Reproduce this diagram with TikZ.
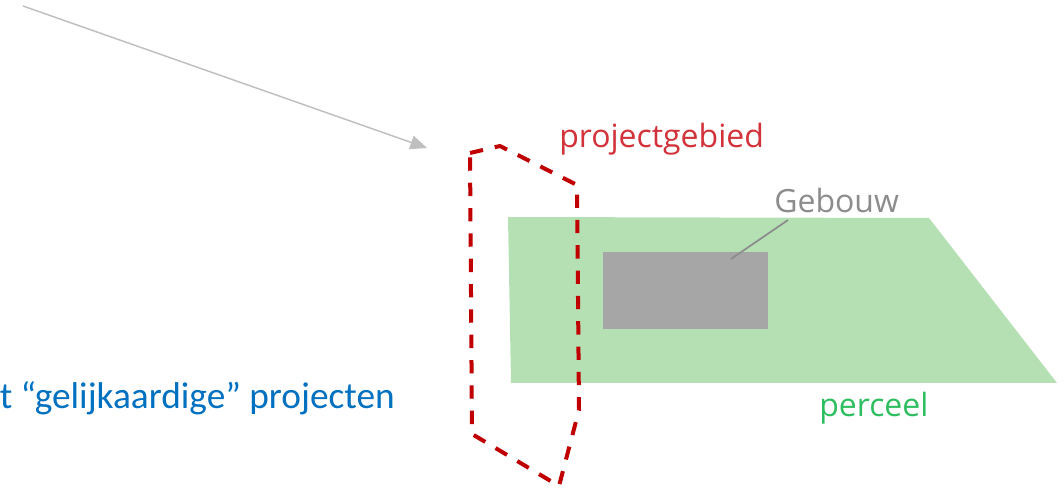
\documentclass[tikz,border=0pt]{standalone}
\usepackage{fontspec}
\setmainfont{Open Sans}
\newfontfamily\calib{Carlito}
\usetikzlibrary{arrows.meta}
\definecolor{redline}{HTML}{C00000}
\definecolor{redtext}{HTML}{D2323A}
\definecolor{greenfill}{HTML}{B5E0B4}
\definecolor{greentext}{HTML}{2EBE5F}
\definecolor{grayrect}{HTML}{A6A6A6}
\definecolor{graytext}{HTML}{8C8C8C}
\definecolor{arrowgray}{HTML}{BFBFBF}
\definecolor{bluetext}{HTML}{0070C0}
\tikzset{
  lbl/.style={inner sep=0pt, font=\fontsize{24}{28}\selectfont},
  areaborder/.style={draw=redline, line width=3pt, dash pattern=on 10pt off 9pt, line join=miter},
  pointer/.style={draw=arrowgray, line width=1.1pt, -{Triangle[length=12.5pt,width=10.5pt]}},
  leader/.style={draw=graytext, line width=1.3pt}
}
\begin{document}
\begin{tikzpicture}[x=0.75pt,y=-0.75pt]
\useasboundingbox (0,0) rectangle (1064,491);
% perceel
\fill[greenfill] (508,217) -- (929,218) -- (1057,383) -- (511,383) -- cycle;
% gebouw
\node[fill=grayrect, inner sep=0pt, minimum width=123.75pt, minimum height=57.75pt, anchor=north west] (building) at (603,252) {};
% projectgebied outline
\draw[areaborder] (470,153) -- (500,146) -- (577,185) -- (579,410) -- (559,486) -- (472,434) -- cycle;
% labels
\node[lbl, text=redtext, anchor=base west] (projlbl) at (559,148) {projectgebied};
\node[lbl, text=graytext, anchor=base west] (geblbl) at (774,213) {Gebouw};
\node[lbl, text=greentext, anchor=base west] (perclbl) at (819,417) {perceel};
\node[inner sep=0pt, anchor=base east, text=bluetext, font=\calib\fontsize{28}{32}\selectfont] (bluelbl) at (395,409) {t “gelijkaardige” projecten};
% leader
\coordinate (leadstart) at (788,220);
\coordinate (leadend) at (731,259);
\draw[leader] (leadstart) -- (leadend);
% arrow
\coordinate (arrstart) at (23,6);
\coordinate (arrend) at (427,148);
\draw[pointer] (arrstart) -- (arrend);
\end{tikzpicture}
\end{document}
